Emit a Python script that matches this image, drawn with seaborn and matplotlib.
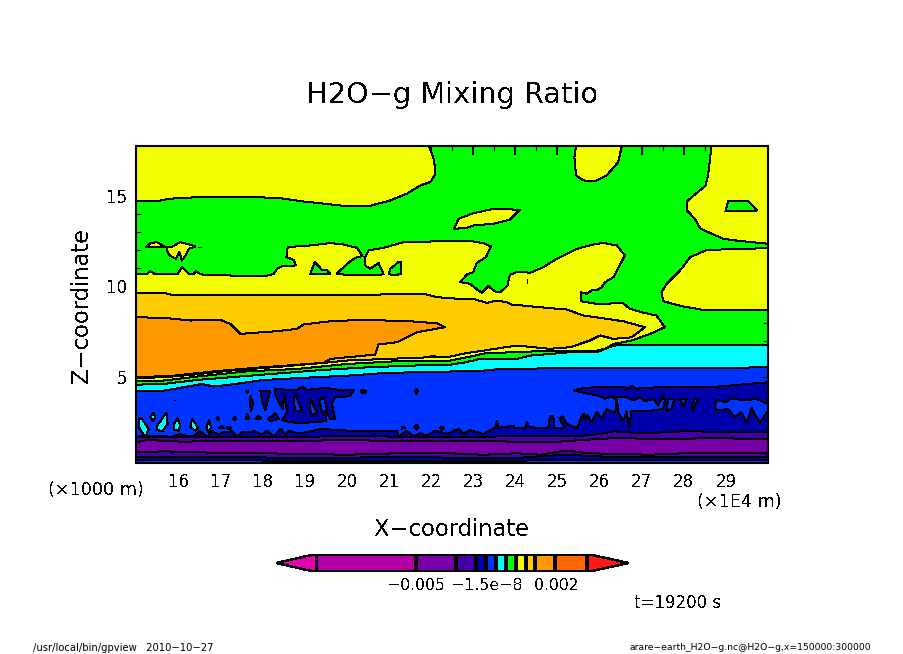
#!/usr/bin/python3

import matplotlib
matplotlib.use('Agg')
import matplotlib.pyplot as plt
import seaborn as sns

# x in 1E4 m, z in 1000 m
x_range = (15.0, 30.0)
z_range = (0.2, 17.8)
x_ticks = list(range(15, 31))
x_tick_labels = ['', '16', '17', '18', '19', '20', '21', '22', '23', '24', '25', '26', '27', '28', '29', '']
z_ticks = [5, 10, 15]

# colorbar boxes, low to high
bar_colors = ['#b300a6', '#7800a6', '#4400a6', '#0000aa', '#0033ff', '#00ffff',
              '#00ff00', '#f2ff00', '#ffcc00', '#ff9900', '#ff6600']
bar_widths = [100, 40, 20, 10, 10, 10, 10, 10, 10, 20, 32]
bar_under = '#e600b0'
bar_over = '#ff1a1a'

violet, indigo, navy, blue, cyan, green, yellow, gold, orange = bar_colors[1:10]

# yellow shapes on the green background
yellow_top_left = [(15.0, 17.8), (15.0, 14.74), (15.53, 14.76), (15.77, 14.87), (16.44, 14.96), (17.47, 14.96),
                   (18.34, 14.93), (18.97, 14.72), (19.92, 14.48), (20.55, 14.48), (21.03, 14.78), (21.42, 15.15),
                   (21.74, 15.61), (21.98, 15.80), (22.10, 16.26), (22.07, 17.0), (21.95, 17.8)]
yellow_top_blob = [(25.44, 17.8), (25.40, 17.18), (25.44, 16.17), (25.61, 15.89), (25.89, 15.85), (26.17, 16.17),
                   (26.44, 16.9), (26.53, 17.8)]
yellow_right = [(28.66, 17.8), (28.58, 16.26), (28.52, 15.61), (28.07, 14.72), (28.08, 14.22), (28.26, 13.76),
                (28.40, 13.2), (28.94, 12.65), (29.25, 12.55), (30.0, 12.37), (30.0, 17.8)]
yellow_float = [(22.54, 13.2), (22.65, 13.76), (23.0, 14.07), (23.48, 14.31), (24.11, 14.26), (23.86, 13.70),
                (23.48, 13.48), (23.0, 13.39), (22.85, 13.26)]
yellow_low_right = [(27.47, 9.68), (27.59, 10.15), (27.91, 10.89), (28.15, 11.63), (28.54, 12.03), (30.0, 12.13),
                    (30.0, 8.70), (28.46, 8.70), (27.99, 8.89), (27.51, 9.18)]
yellow_small_a = [(15.23, 12.18), (15.33, 12.41), (15.49, 12.46), (15.69, 12.18)]
yellow_small_b = [(15.71, 12.18), (15.85, 12.22), (16.04, 12.46), (16.20, 12.37), (16.40, 12.22), (16.24, 12.09),
                  (16.16, 11.72), (16.08, 11.44), (16.02, 11.91), (15.93, 11.54), (15.79, 11.72), (15.73, 11.98)]
yellow_main = [(15.0, 10.70), (15.25, 10.70), (15.32, 10.85), (15.45, 10.67), (15.97, 10.67), (16.08, 11.07),
               (16.24, 10.70), (16.36, 10.70), (16.42, 10.85), (16.52, 10.67), (17.23, 10.61), (17.39, 10.56),
               (18.02, 10.56), (18.26, 10.70), (18.34, 10.98), (18.46, 11.13), (18.79, 11.17), (18.73, 11.48),
               (18.56, 11.63), (18.59, 12.19), (19.13, 12.28), (19.60, 12.41), (19.92, 12.33), (20.24, 12.15),
               (20.37, 11.68), (20.24, 11.63), (20.08, 11.41), (19.92, 11.07), (19.75, 10.70), (20.20, 10.61),
               (20.87, 10.67), (20.75, 11.30), (20.55, 10.98), (20.43, 11.17), (20.43, 11.63), (20.51, 12.0),
               (20.87, 12.15), (21.34, 12.46), (22.37, 12.52), (23.0, 12.5), (23.24, 12.41), (23.42, 12.22),
               (23.30, 11.63), (23.08, 11.30), (23.0, 10.80), (22.85, 10.67), (22.69, 10.24), (22.92, 10.15),
               (23.12, 9.78), (23.20, 9.65), (23.36, 10.02), (23.52, 9.72), (23.64, 9.68), (23.81, 10.05),
               (23.87, 10.65), (24.07, 10.83), (24.35, 10.76), (24.66, 11.07), (24.98, 11.54), (25.46, 12.09),
               (25.81, 12.31), (26.09, 12.42), (26.41, 12.28), (26.60, 11.72), (26.33, 10.52), (26.13, 10.24),
               (26.05, 9.96), (25.93, 9.78), (25.81, 9.78), (25.69, 9.59), (25.56, 9.68), (25.55, 9.18),
               (25.93, 9.04), (26.56, 9.07), (26.72, 8.76), (27.0, 8.57), (27.35, 8.39), (27.55, 7.74),
               (27.2, 7.37), (26.76, 7.0), (26.33, 6.81), (26.17, 6.57), (25.93, 6.44), (25.30, 6.44),
               (24.82, 6.44), (24.03, 6.35), (23.32, 6.31), (22.85, 6.07), (22.45, 5.89), (21.5, 5.89),
               (20.0, 5.70), (18.81, 5.42), (17.63, 5.29), (16.44, 5.0), (15.65, 4.78), (15.0, 4.78)]

# green islands inside the yellow
green_right = [(29.05, 14.74), (29.53, 14.74), (29.74, 14.22), (28.99, 14.17)]
green_a = [(19.13, 10.70), (19.23, 11.35), (19.41, 10.92), (19.52, 10.92), (19.60, 10.70)]
green_b = [(20.99, 10.70), (21.03, 10.98), (21.22, 11.35), (21.28, 11.35), (21.28, 10.70), (21.10, 10.61)]

gold_main = [(15.0, 9.65), (15.65, 9.65), (15.81, 9.55), (17.47, 9.55), (17.63, 9.50), (20.16, 9.50), (21.19, 9.59),
             (21.82, 9.59), (22.13, 9.41), (22.69, 9.31), (23.0, 9.31), (23.32, 9.09), (23.56, 9.22), (23.79, 9.13),
             (23.91, 9.0), (24.59, 8.85), (25.22, 8.72), (25.61, 8.39), (26.56, 8.07), (27.08, 7.74), (26.76, 7.18),
             (26.33, 7.09), (26.01, 7.28), (25.77, 7.0), (25.30, 6.63), (24.82, 6.54), (24.03, 6.72), (23.24, 6.44),
             (22.85, 6.31), (22.45, 6.11), (21.5, 6.03), (20.0, 5.89), (19.45, 5.76), (18.42, 5.55), (17.23, 5.33),
             (16.28, 5.09), (15.65, 4.96), (15.0, 4.92)]
orange_main = [(15.0, 8.29), (15.65, 8.26), (16.28, 8.11), (16.99, 8.15), (17.23, 7.92), (17.47, 7.37), (18.34, 7.52),
               (18.81, 7.65), (18.97, 7.89), (19.60, 8.07), (20.39, 8.15), (21.5, 8.07), (22.13, 7.96), (22.33, 7.74),
               (21.66, 7.46), (21.19, 6.91), (20.75, 6.78), (20.67, 6.22), (19.60, 5.98), (19.45, 5.76), (18.02, 5.52),
               (16.84, 5.29), (15.89, 5.05), (15.0, 4.96)]

# horizontal bands, filled from the line down to the bottom of the frame
cyan_top = [(15.0, 4.55), (15.65, 4.59), (16.44, 4.81), (18.02, 5.11), (19.45, 5.37), (20.55, 5.52), (21.58, 5.61),
            (22.45, 5.66), (22.81, 5.79), (23.16, 5.98), (24.03, 5.98), (24.35, 6.16), (25.30, 6.35), (25.93, 6.35),
            (26.33, 6.72), (26.96, 6.76), (30.0, 6.76)]
blue_top = [(15.0, 4.18), (15.65, 4.22), (16.20, 4.44), (16.56, 4.59), (16.84, 4.44), (17.47, 4.63), (18.02, 4.81),
            (19.21, 4.96), (20.0, 5.05), (20.79, 5.18), (21.58, 5.24), (22.45, 5.28), (23.24, 5.33), (23.64, 5.42),
            (25.61, 5.48), (25.73, 5.46), (26.33, 5.46), (28.54, 5.46), (30.0, 5.52)]
navy_band = [(15.0, 1.66), (15.33, 1.72), (15.65, 1.72), (15.81, 1.63), (16.04, 1.81), (16.16, 1.72), (16.36, 1.66),
             (16.50, 2.0), (16.68, 1.63), (16.80, 2.0), (16.93, 1.76), (17.07, 1.91), (17.27, 1.96), (17.39, 1.66),
             (17.51, 1.91), (17.82, 1.96), (17.98, 1.76), (18.10, 2.0), (18.26, 1.66), (18.42, 2.09), (18.54, 1.76),
             (18.61, 2.0), (18.81, 1.85), (19.05, 1.91), (19.37, 2.09), (20.0, 2.0), (20.40, 1.96), (21.19, 1.96),
             (21.23, 1.66), (21.42, 2.0), (21.58, 1.66), (21.74, 1.85), (21.90, 1.72), (22.10, 2.0), (22.37, 1.81),
             (22.65, 2.09), (22.77, 1.81), (22.92, 2.03), (23.24, 1.81), (23.40, 2.03), (23.52, 2.15), (23.56, 2.55),
             (23.60, 2.15), (23.95, 2.28), (23.99, 2.13), (24.23, 2.13), (24.27, 2.46), (24.32, 2.18), (24.78, 2.15),
             (24.82, 2.78), (24.90, 2.83), (24.92, 2.15), (25.18, 2.15), (25.04, 2.70), (25.12, 2.79), (25.22, 2.37),
             (25.46, 2.15), (25.61, 2.92), (25.71, 2.83), (25.81, 2.46), (25.93, 3.02), (26.05, 2.70), (26.17, 3.20),
             (26.33, 3.0), (26.38, 3.11), (26.38, 3.76), (26.25, 3.89), (26.13, 3.76), (25.97, 3.94), (25.77, 4.03),
             (25.39, 4.22), (25.61, 4.37), (26.25, 4.44), (26.56, 4.44), (26.68, 4.31), (26.76, 4.50), (26.88, 4.33),
             (27.59, 4.44), (28.78, 4.44), (30.0, 4.68)]
indigo_top = [(15.0, 1.63), (16.04, 1.66), (17.63, 1.66), (18.81, 1.63), (20.0, 1.72), (21.19, 1.66), (23.24, 1.66),
              (24.82, 1.72), (25.61, 1.72), (26.01, 1.81), (26.33, 1.96), (27.04, 1.85), (27.99, 1.96), (28.78, 1.94),
              (30.0, 1.91)]
violet_top = [(15.0, 1.35), (15.25, 1.48), (16.04, 1.39), (17.63, 1.41), (19.21, 1.44), (20.0, 1.48), (21.19, 1.41),
              (22.69, 1.44), (24.82, 1.35), (25.61, 1.48), (26.41, 1.59), (27.2, 1.54), (28.78, 1.57), (30.0, 1.54)]
indigo_low = [(15.0, 0.79), (15.65, 0.85), (16.44, 0.79), (18.02, 0.74), (18.97, 0.70), (20.0, 0.66), (21.19, 0.74),
              (22.45, 0.74), (23.24, 0.66), (24.03, 0.74), (24.59, 0.66), (25.18, 0.89), (25.77, 0.74), (27.2, 0.66),
              (27.99, 0.74), (30.0, 0.74)]
navy_low = [(15.0, 0.55), (16.44, 0.55), (17.63, 0.52), (18.81, 0.48), (21.19, 0.52), (24.03, 0.48), (25.18, 0.66),
            (26.41, 0.52), (30.0, 0.52)]
blue_low = [(15.0, 0.37), (18.81, 0.33), (22.69, 0.33), (30.0, 0.37)]

# cyan spots in the blue, lower left
cyan_spots = [
    [(15.06, 2.70), (15.13, 2.65), (15.29, 2.09), (15.21, 1.63), (15.13, 1.91), (15.06, 2.18)],
    [(15.40, 3.0), (15.45, 2.74), (15.39, 2.55), (15.33, 2.74)],
    [(15.71, 3.0), (15.74, 2.37), (15.61, 1.96), (15.49, 2.03), (15.49, 2.27)],
    [(15.97, 2.7), (16.04, 2.27), (16.0, 2.0), (15.89, 2.03), (15.89, 2.37)],
    [(16.32, 2.65), (16.46, 2.18), (16.40, 2.0), (16.28, 2.18)],
    [(16.72, 2.59), (16.77, 2.18), (16.72, 1.85), (16.66, 2.18)],
]

# dark blue patches in the blue, left part
navy_spots = [
    [(17.71, 3.94), (17.77, 3.48), (17.72, 3.11), (17.69, 3.48)],
    [(17.94, 4.22), (18.18, 4.22), (18.06, 3.15), (18.0, 3.48)],
    [(18.30, 4.31), (18.50, 4.28), (18.81, 4.26), (18.93, 4.44), (19.05, 4.26), (19.49, 4.37), (19.92, 4.22),
     (20.17, 4.28), (20.08, 3.94), (19.92, 3.85), (19.72, 3.85), (19.64, 3.48), (19.72, 2.65), (19.60, 2.65),
     (19.52, 3.02), (19.49, 2.52), (19.13, 2.46), (18.97, 2.41), (18.65, 2.46), (18.46, 2.59), (18.58, 3.02),
     (18.50, 4.03), (18.48, 3.20), (18.38, 3.57), (18.30, 3.94)],
    [(18.30, 2.96), (18.38, 2.65), (18.18, 2.52), (18.13, 2.65)],
    [(17.90, 2.83), (17.96, 2.65), (17.82, 2.65)],
    [(17.63, 2.92), (17.67, 2.65), (17.59, 2.65)],
    [(16.93, 2.74), (16.96, 2.65), (16.93, 2.59), (16.90, 2.67)],
    [(17.33, 2.74), (17.36, 2.65), (17.33, 2.59), (17.30, 2.66)],
    [(20.32, 4.26), (20.43, 4.22), (20.46, 4.13), (20.36, 4.07)],
    [(21.65, 4.31), (21.68, 4.18), (21.65, 4.04), (21.62, 4.18)],
    [(17.61, 4.22), (17.66, 4.18), (17.63, 4.09)],
    [(21.65, 2.33), (21.70, 2.18), (21.65, 2.05), (21.60, 2.18)],
    [(21.30, 2.22), (21.38, 2.15), (21.30, 2.10)],
    [(22.25, 2.22), (22.30, 2.15), (22.25, 2.05), (22.2, 2.15)],
    [(17.21, 2.22), (17.25, 2.15), (17.21, 2.07), (17.15, 2.17)],
    [(17.01, 2.26), (17.07, 2.15), (16.96, 2.15)],
    [(25.66, 2.65), (25.76, 2.75), (25.66, 2.85), (25.56, 2.75)],
]

# blue holes left in the dark blue
blue_holes = [
    [(18.77, 4.03), (18.93, 3.11), (18.77, 3.11), (18.73, 3.67)],
    [(19.13, 3.76), (19.29, 3.02), (19.17, 2.83), (19.11, 3.30)],
    [(19.45, 3.85), (19.52, 3.20), (19.43, 2.92), (19.33, 3.67)],
    [(26.41, 3.85), (26.64, 3.85), (26.80, 3.67), (26.96, 3.85), (27.08, 3.63), (27.28, 3.76), (27.39, 3.39),
     (27.51, 3.94), (27.55, 3.67), (27.51, 3.20), (27.12, 3.07), (26.76, 3.07), (26.70, 2.18), (26.64, 3.07),
     (26.56, 2.52), (26.44, 3.02)],
    [(27.63, 3.76), (27.77, 3.76), (27.71, 3.20), (27.59, 3.11)],
    [(27.91, 3.76), (28.07, 3.76), (27.99, 3.33)],
    [(28.26, 3.76), (28.33, 3.70), (28.22, 3.15), (28.18, 3.26)],
    [(28.78, 3.70), (29.02, 3.57), (29.13, 3.81), (29.41, 3.67), (29.73, 3.76), (30.0, 3.48), (30.0, 3.11),
     (29.92, 2.83), (29.81, 2.41), (29.61, 3.24), (29.49, 2.41), (29.37, 3.02), (29.21, 2.74), (29.05, 3.2),
     (28.78, 3.11), (28.74, 3.29)],
]

# short bits of contour line
line_bits = [
    [(16.46, 12.2), (16.53, 12.2)],
    [(24.27, 10.2), (24.27, 10.4)],
    [(21.98, 6.2), (22.1, 6.2)],
    [(29.8, 4.96), (30.0, 4.96)],
    [(15.90, 3.72), (15.91, 3.72)],
    [(16.10, 3.72), (16.11, 3.72)],
]

sns.set_theme(style='ticks')
plt.rcParams['font.family'] = ['DejaVu Sans']
plt.rcParams['text.antialiased'] = False

fig = plt.figure(figsize=(9.04, 6.54), dpi=100, facecolor='white')
ax = fig.add_axes([136.5 / 904, 1 - 463 / 654, 631.5 / 904, 317 / 654])
ax.set_facecolor(green)


def contour_line(points, closed=True):
    xs = [p[0] for p in points]
    zs = [p[1] for p in points]
    if closed:
        xs.append(xs[0])
        zs.append(zs[0])
    sns.lineplot(x=xs, y=zs, sort=False, estimator=None, color='black', linewidth=0.72,
                 antialiased=False, legend=False, ax=ax)


def region(points, color):
    ax.fill([p[0] for p in points], [p[1] for p in points], color=color, linewidth=0, antialiased=False)
    contour_line(points)


def band(points, color):
    region(points + [(x_range[1], z_range[0]), (x_range[0], z_range[0])], color)


for shape in [yellow_top_left, yellow_top_blob, yellow_right, yellow_float, yellow_low_right,
              yellow_small_a, yellow_small_b, yellow_main]:
    region(shape, yellow)
for shape in [green_right, green_a, green_b]:
    region(shape, green)
region(gold_main, gold)
region(orange_main, orange)

band(cyan_top, cyan)
band(blue_top, blue)
for shape in cyan_spots:
    region(shape, cyan)
for shape in navy_spots:
    region(shape, navy)
band(navy_band, navy)
for shape in blue_holes:
    region(shape, blue)
band(indigo_top, indigo)
band(violet_top, violet)
band(indigo_low, indigo)
band(navy_low, navy)
band(blue_low, blue)
for bit in line_bits:
    contour_line(bit, closed=False)

ax.set_xlim(*x_range)
ax.set_ylim(*z_range)
ax.set_xlabel('')
ax.set_ylabel('')
ax.set_xticks(x_ticks)
ax.set_xticklabels(x_tick_labels, fontsize=12, color='black')
ax.set_xticks([t + 0.5 for t in x_ticks[:-1]], minor=True)
ax.set_yticks(z_ticks)
ax.set_yticklabels([str(t) for t in z_ticks], fontsize=12, color='black')
ax.set_yticks([t for t in range(1, 18) if t not in z_ticks], minor=True)
ax.tick_params(which='major', direction='in', length=6.5, width=1.5, top=True, right=True, bottom=True, left=True,
               pad=7, color='black')
ax.tick_params(which='minor', direction='in', length=3.6, width=0.8, top=True, right=True, bottom=True, left=True,
               color='black')
for spine in ax.spines.values():
    spine.set_visible(True)
    spine.set_linewidth(1.5)
    spine.set_color('black')

# colorbar
cax = fig.add_axes([276 / 904, 1 - 572 / 654, 352.7 / 904, 18 / 654])
cax.axis('off')
cax.set_xlim(-40, sum(bar_widths) + 41.4)
cax.set_ylim(0, 1)
left = 0
for color, width in zip(sns.color_palette(bar_colors), bar_widths):
    cax.barh(0.5, width, height=1, left=left, color=color, edgecolor='black', linewidth=1.5, antialiased=False)
    left += width
cax.fill([0, -40, 0], [0, 0.5, 1], color=bar_under, edgecolor='black', linewidth=1.0, antialiased=False)
cax.fill([left, left + 41.4, left], [0, 0.5, 1], color=bar_over, edgecolor='black', linewidth=1.0, antialiased=False)


def px_text(x, y, s, size, **kw):
    fig.text(x / 904, 1 - y / 654, s, fontsize=size, color='black', ha=kw.pop('ha', 'center'),
             va=kw.pop('va', 'center'), **kw)


px_text(452, 95, 'H2O\u2212g Mixing Ratio', 20.7)
px_text(82, 305, 'Z\u2212coordinate', 16.3, rotation=90)
px_text(452, 530, 'X\u2212coordinate', 16.3)
px_text(95.5, 490, '(\u00d71000 m)', 12.7)
px_text(739.5, 502, '(\u00d71E4 m)', 12.7)
px_text(416, 586, '\u22120.005', 11.3)
px_text(487, 586, '\u22121.5e\u22128', 11.3)
px_text(556, 586, '0.002', 11.3)
px_text(678, 603, 't=19200 s', 12)
# the small footers break up without antialiasing
px_text(33, 648, '/usr/local/bin/gpview   2010\u221210\u221227', 7.2, ha='left', antialiased=True)
px_text(871, 648, 'arare\u2212earth_H2O\u2212g.nc@H2O\u2212g,x=150000:300000', 6.7, ha='right', antialiased=True)

fig.savefig('out.png', dpi=100)
